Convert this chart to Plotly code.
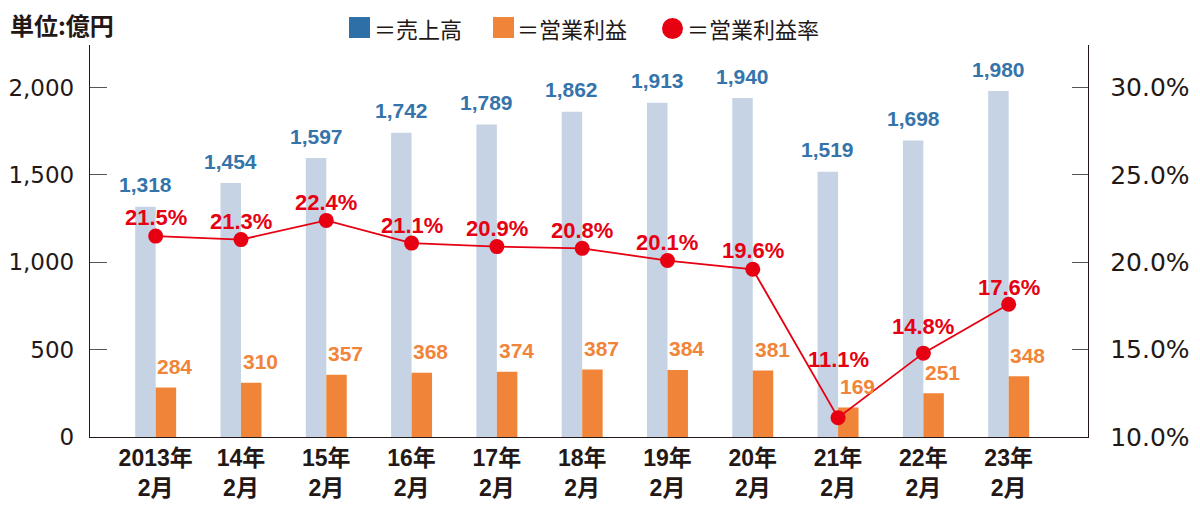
import plotly.graph_objects as go

categories = ["2013年<br>2月", "14年<br>2月", "15年<br>2月", "16年<br>2月", "17年<br>2月", "18年<br>2月",
              "19年<br>2月", "20年<br>2月", "21年<br>2月", "22年<br>2月", "23年<br>2月"]
sales = [1318, 1454, 1597, 1742, 1789, 1862, 1913, 1940, 1519, 1698, 1980]
op_profit = [284, 310, 357, 368, 374, 387, 384, 381, 169, 251, 348]
op_margin = [21.5, 21.3, 22.4, 21.1, 20.9, 20.8, 20.1, 19.6, 11.1, 14.8, 17.6]
left_ticks = [0, 500, 1000, 1500, 2000]
right_ticks = [10, 15, 20, 25, 30]
right_tick_labels = ["10.0%", "15.0%", "20.0%", "25.0%", "30.0%"]

# label vertical offsets (px) for the margin labels
margin_label_shift = [19, 18, 18, 18, 18, 18, 18, 19, 58, 27, 17]

C_BAR_BLUE = "#c5d3e4"
C_BLUE_TXT = "#3574ab"
C_LEG_BLUE = "#2f6fa8"
C_ORANGE = "#f0853a"
C_RED = "#e60012"
C_DARK = "#231815"

xs = list(range(len(categories)))
BW = 0.24

# page offset of the figure (default body margin of the html page)
OFF = 8
W, H = 1200 - OFF, 513 - OFF
# plot area in window pixels
X0, X1, Y0, Y1 = 90, 1088, 45, 437.5
L, T = X0 - OFF, Y0 - OFF
R = (W + OFF) - X1
B = (H + OFF) - Y1
PW = X1 - X0
PH = Y1 - Y0

def px(x):
    return (x - X0) / PW

def py(y):
    return (Y1 - y) / PH

fig = go.Figure()
fig.add_trace(go.Bar(x=xs, y=sales, width=BW, offset=-BW, marker=dict(color=C_BAR_BLUE, line=dict(width=0)),
                     showlegend=False, hoverinfo="y"))
fig.add_trace(go.Bar(x=xs, y=op_profit, width=BW, offset=0, marker=dict(color=C_ORANGE, line=dict(width=0)),
                     showlegend=False, hoverinfo="y"))
fig.add_trace(go.Scatter(x=xs, y=op_margin, yaxis="y2", mode="lines+markers",
                         line=dict(color=C_RED, width=1.8),
                         marker=dict(color=C_RED, size=15), showlegend=False))

NUMFONT = "Liberation Sans, Arial, sans-serif"
annotations = []
for i, v in enumerate(sales):
    annotations.append(dict(x=i - BW / 2, y=v, xref="x", yref="y", text=f"{v:,}", showarrow=False,
                            yshift=22, font=dict(family=NUMFONT, size=21, color=C_BLUE_TXT, weight="bold")))
for i, v in enumerate(op_profit):
    annotations.append(dict(x=i + BW / 2, y=v, xref="x", yref="y", text=f"{v}", showarrow=False,
                            yshift=21, xshift=9, font=dict(family=NUMFONT, size=21, color=C_ORANGE, weight="bold")))
for i, v in enumerate(op_margin):
    annotations.append(dict(x=i, y=v, xref="x", yref="y2", text=f"{v:.1f}%", showarrow=False,
                            yshift=margin_label_shift[i], font=dict(family=NUMFONT, size=22, color=C_RED, weight="bold")))

JP = "Liberation Sans, Noto Sans CJK JP, sans-serif"
annotations.append(dict(x=px(8), y=py(24), xref="paper", yref="paper", text="単位:億円", showarrow=False,
                        xanchor="left", yanchor="middle",
                        font=dict(family="Noto Sans CJK JP, sans-serif", size=24, color=C_DARK, weight="bold")))

legend_items = [("＝売上高", 349, 372, "square", C_LEG_BLUE),
                ("＝営業利益", 493, 515, "square", C_ORANGE),
                ("＝営業利益率", 662, 685, "circle", C_RED)]
shapes = []
for text, mx, tx, kind, col in legend_items:
    if kind == "square":
        shapes.append(dict(type="rect", xref="paper", yref="paper", x0=px(mx), x1=px(mx + 21),
                           y0=py(38), y1=py(17), fillcolor=col, line=dict(width=0)))
    else:
        shapes.append(dict(type="circle", xref="paper", yref="paper", x0=px(mx), x1=px(mx + 21),
                           y0=py(39), y1=py(18), fillcolor=col, line=dict(width=0)))
    annotations.append(dict(x=px(tx), y=py(28), xref="paper", yref="paper", text=text, showarrow=False,
                            xanchor="left", yanchor="middle",
                            font=dict(family="Noto Sans CJK JP, sans-serif", size=22, color=C_DARK)))

TICKFONT_L = dict(family="DejaVu Sans, sans-serif", size=23, color=C_DARK)
TICKFONT_R = dict(family="DejaVu Sans, sans-serif", size=25, color=C_DARK)

fig.update_layout(
    width=W, height=H,
    margin=dict(l=L, r=R, t=T, b=B, pad=0, autoexpand=False),
    paper_bgcolor="white", plot_bgcolor="white",
    barmode="overlay",
    xaxis=dict(range=[-0.77, 10.93], tickvals=xs, ticktext=categories, showgrid=False, zeroline=False,
               showline=True, linecolor=C_DARK, linewidth=1.3, ticks="", automargin=False,
               tickfont=dict(family=JP, size=23, color=C_DARK, weight="bold")),
    yaxis=dict(range=[0, 2244], tickvals=left_ticks, tickformat=",d", showgrid=False, zeroline=False,
               showline=True, linecolor=C_DARK, linewidth=1.3, ticks="inside", ticklen=17,
               tickcolor="#555555", tickwidth=1.2, tickfont=TICKFONT_L, ticklabelstandoff=10, automargin=False),
    yaxis2=dict(range=[10, 32.44], tickvals=right_ticks, ticktext=right_tick_labels,
                overlaying="y", side="right", showgrid=False, zeroline=False,
                showline=True, linecolor=C_DARK, linewidth=1.3, ticks="inside", ticklen=16,
                tickcolor="#555555", tickwidth=1.2, tickfont=TICKFONT_R, ticklabelstandoff=16, automargin=False),
    annotations=annotations,
    shapes=shapes,
)

fig.write_html("out.html")
